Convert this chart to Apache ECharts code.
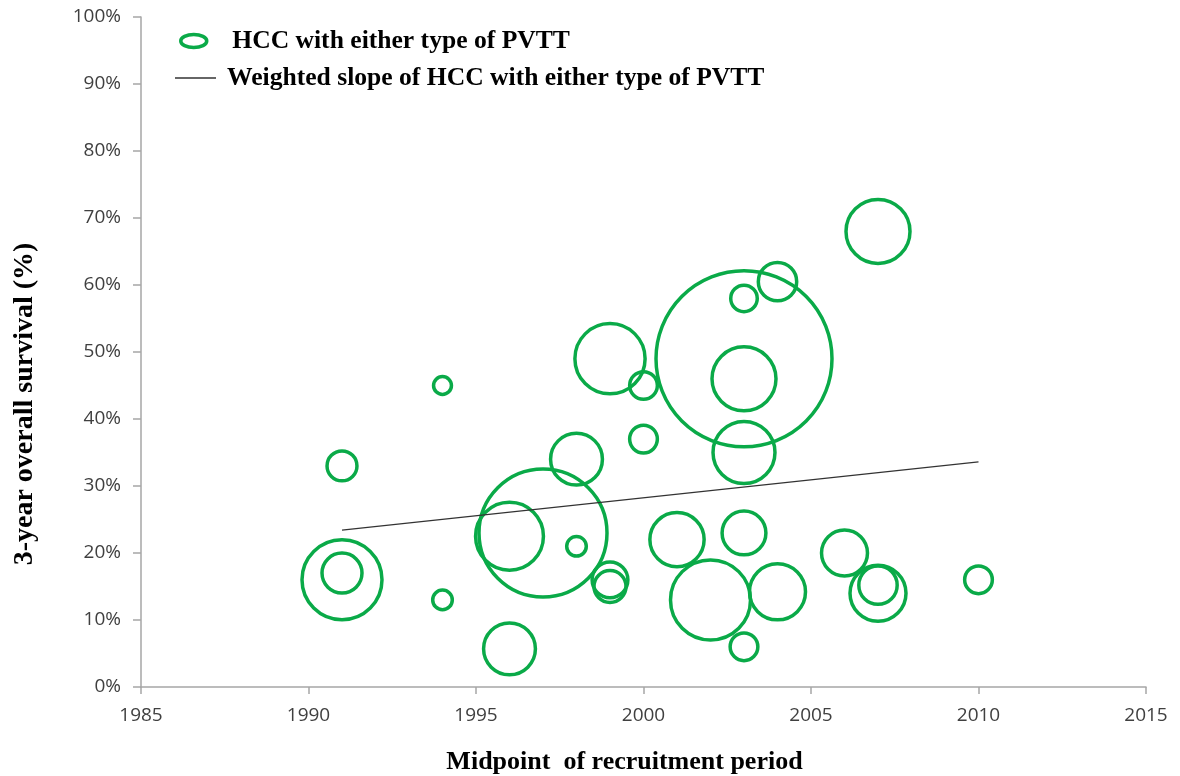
<!DOCTYPE html>
<html>
<head>
<meta charset="utf-8">
<script src="https://cdn.jsdelivr.net/npm/echarts@6/dist/echarts.min.js"></script>
<style>
    html, body { margin: 0; padding: 0; background: #fff; }
    #chart { width: 1180px; height: 776px; }
</style>
</head>
<body>
<div id="chart"></div>
<script>
    // study midpoints (year), 3-year OS (%), relative weight (bubble area)
    var years    = [1991, 1991, 1991, 1994, 1994, 1996, 1996, 1997, 1998, 1998,
                    1999, 1999, 1999, 2000, 2000, 2001, 2002, 2003, 2003, 2004,
                    2003, 2003, 2007, 2003, 2004, 2003, 2006, 2007, 2007, 2010];
    var survival = [33, 16, 17, 45, 13, 5.7, 22.5, 23, 34, 21,
                    49, 16, 15, 45, 37, 22, 13, 49, 58, 60.5,
                    46, 35, 68, 23, 14.2, 6, 20, 14, 15.2, 16];
    var weights  = [14, 100, 25, 5, 6, 42, 72, 256, 42, 6,
                    77, 20, 16, 12, 12, 46, 100, 484, 11, 23,
                    64, 60, 64, 30, 49, 12, 33, 49, 23, 12];

    var slopeYears = [1991, 2010];
    var slopeValues = [23.4, 33.6];

    var xTicks = [1985, 2015, 5];
    var yTicks = [0, 100, 10];

    var bubbleName = 'HCC with either type of PVTT';
    var slopeName = 'Weighted slope of HCC with either type of PVTT';

    var bubbles = years.map(function (y, i) { return [y, survival[i], weights[i]]; });
    var slope = slopeYears.map(function (y, i) { return [y, slopeValues[i]]; });

    var green = '#0aaa48';
    var serif = '"Liberation Serif", "Times New Roman", serif';
    var sans = '"Open Sans", "Liberation Sans", sans-serif';

    var chart = echarts.init(document.getElementById('chart'));
    chart.setOption({
        animation: false,
        grid: { left: 141, right: 34, top: 17, bottom: 89, outerBoundsMode: 'none' },
        legend: [
            {
                data: [{ name: bubbleName, icon: 'path://M0,6a12,6 0 1,0 24,0a12,6 0 1,0 -24,0z' }],
                left: 174, top: 23,
                itemWidth: 29, itemHeight: 13,
                itemStyle: { color: 'rgba(0,0,0,0)', borderColor: green, borderWidth: 3.5 },
                textStyle: { fontFamily: serif, fontWeight: 'bold', fontSize: 25.6, color: '#000', padding: [0, 0, 0, 19] },
                selectedMode: false
            },
            {
                data: [{ name: slopeName, icon: 'rect' }],
                left: 170, top: 60,
                itemWidth: 41, itemHeight: 1.5,
                itemStyle: { color: '#333' },
                textStyle: { fontFamily: serif, fontWeight: 'bold', fontSize: 25.6, color: '#000', padding: [0, 0, 0, 6] },
                selectedMode: false
            }
        ],
        xAxis: {
            type: 'value',
            min: xTicks[0], max: xTicks[1], interval: xTicks[2],
            name: 'Midpoint  of recruitment period',
            nameLocation: 'middle', nameGap: 62,
            nameTextStyle: { fontFamily: serif, fontWeight: 'bold', fontSize: 26, color: '#000', padding: [0, 38, 0, 0] },
            axisLine: { lineStyle: { color: '#a6a6a6', width: 1.5 } },
            axisTick: { show: true, length: 7, lineStyle: { color: '#a6a6a6', width: 1.5 } },
            axisLabel: { fontFamily: sans, fontSize: 19, color: '#404040', margin: 19, formatter: function (v) { return String(v); } },
            splitLine: { show: false }
        },
        yAxis: {
            type: 'value',
            min: yTicks[0], max: yTicks[1], interval: yTicks[2],
            name: '3-year overall survival (%)',
            nameLocation: 'middle', nameGap: 102, nameRotate: 90,
            nameTextStyle: { fontFamily: serif, fontWeight: 'bold', fontSize: 28, color: '#000', padding: [0, 104, 0, 0] },
            axisLine: { show: true, lineStyle: { color: '#a6a6a6', width: 1.5 } },
            axisTick: { show: true, length: 8, lineStyle: { color: '#a6a6a6', width: 1.5 } },
            axisLabel: { fontFamily: sans, fontSize: 19, color: '#404040', margin: 20, formatter: '{value}%' },
            splitLine: { show: false }
        },
        series: [
            {
                name: bubbleName,
                type: 'scatter',
                data: bubbles,
                symbol: 'circle',
                symbolSize: function (v) { return 8 * Math.sqrt(v[2]); },
                itemStyle: { color: 'rgba(0,0,0,0)', borderColor: green, borderWidth: 3.5, opacity: 1 },
                emphasis: { disabled: true }
            },
            {
                name: slopeName,
                type: 'line',
                data: slope,
                symbol: 'none',
                lineStyle: { color: '#333', width: 1.3 },
                itemStyle: { color: '#333' },
                emphasis: { disabled: true }
            }
        ]
    });
</script>
</body>
</html>
